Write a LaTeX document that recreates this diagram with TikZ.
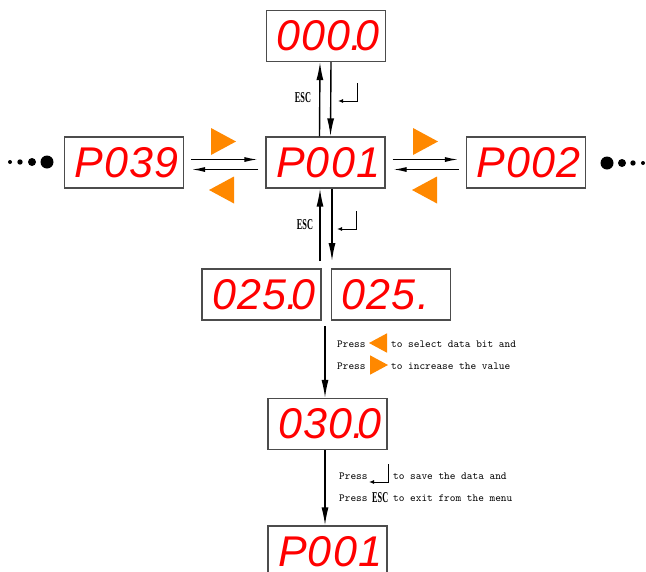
\documentclass[tikz,border=0pt]{standalone}
\usepackage{fontspec}
\setmainfont{Liberation Serif}
\newfontfamily\segfont{Liberation Sans}[LetterSpace=3]
\newfontfamily\escfont{Liberation Serif}[FakeStretch=0.55]
\usetikzlibrary{arrows.meta}

\definecolor{keyorange}{RGB}{255,136,0}
\definecolor{segred}{RGB}{255,0,0}

% decimal point of a seven segment display takes almost no room
\newcommand{\segdot}{\makebox[5pt][l]{.}}

\tikzset{
  display/.style={draw=black!70, line width=1.2pt, minimum width=119pt,
    minimum height=51pt, text width=99pt, inner sep=0pt, align=left,
    text=segred, font=\segfont\itshape\fontsize{43}{43}\selectfont},
  bigarrow/.style={line width=1.4pt, -{Latex[length=18pt,width=7pt]}},
  sidearrow/.style={line width=1.2pt, -{Latex[length=13pt,width=5pt]},
    shorten <=7pt, shorten >=8pt},
  esclabel/.style={font=\escfont\bfseries\fontsize{15}{15}\selectfont, inner sep=0pt},
  note/.style={font=\ttfamily\fontsize{10.8}{12}\selectfont, anchor=base west, inner sep=0pt},
  keyright/.pic={\fill[keyorange] (-12.5,-13.5) -- (12.5,0) -- (-12.5,13.5) -- cycle;},
  keyleft/.pic={\fill[keyorange] (12.5,-13.5) -- (-12.5,0) -- (12.5,13.5) -- cycle;},
  enterkey/.pic={\draw[line width=1pt, -{Latex[length=5pt,width=4pt]}] (0,-18) -- (0,0) -- (-19,0);}
}

\begin{document}
\begin{tikzpicture}[x=1pt,y=-1pt]
  \useasboundingbox (0,0) rectangle (646,571);
  \clip (0,0) rectangle (646,571);

  % --- displays ---
  \node[display] (top)   at (326,36)     {000\segdot0};
  \node[display] (p039)  at (124,162.5)  {P039};
  \node[display] (p001)  at (325.5,162.5){P001};
  \node[display] (p002)  at (526,162.5)  {P002};
  \node[display] (d0250) at (261.5,294.5){025\segdot0};
  \node[display] (d025)  at (391,294.5)  {025.};
  \node[display] (d0300) at (327.5,424)  {030\segdot0};
  \node[display] (p001b) at (327.5,551.5){P001};

  % --- up and down from P001 ---
  \draw[bigarrow] ([xshift=-6pt]p001.north) -- ([xshift=-6pt]top.south);
  \draw[bigarrow] ([xshift=5pt]top.south) -- ([xshift=5pt]p001.north);
  \node[esclabel] (escup) at (303,98) {ESC};
  \pic at (357,101) {enterkey};

  \coordinate (gapTop) at (326,261);
  \draw[bigarrow] ([xshift=-6pt]gapTop) -- ([xshift=-6pt]gapTop |- p001.south);
  \draw[bigarrow] ([xshift=6pt]gapTop |- p001.south) -- ([xshift=6pt]gapTop);
  \node[esclabel] (escdown) at (305,225) {ESC};
  \pic at (356,229) {enterkey};

  % --- left and right ---
  \draw[sidearrow] ([yshift=3pt]p039.east) -- ([yshift=3pt]p001.west);
  \draw[sidearrow] ([yshift=-7pt]p001.west) -- ([yshift=-7pt]p039.east);
  \draw[sidearrow] ([yshift=3pt]p001.east) -- ([yshift=3pt]p002.west);
  \draw[sidearrow] ([yshift=-7pt]p002.west) -- ([yshift=-7pt]p001.east);
  \pic at (223.5,141.5) {keyright};
  \pic at (221.5,190) {keyleft};
  \pic at (425.5,141.5) {keyright};
  \pic at (424.5,190) {keyleft};

  % more parameters on both sides
  \fill (10,162) circle (2) (20,162) circle (2.7) (32,162) circle (4) (47,162) circle (6.5);
  \fill (607,163) circle (6.5) (622,163) circle (4) (633,163) circle (2.7) (643,163) circle (2);

  % --- editing the value ---
  \coordinate (gapBot) at (325,326);
  \draw[bigarrow] (gapBot) -- (gapBot |- d0300.north);
  \node[note] (pressA) at (337,347) {Press};
  \pic[scale=0.72] at (378,343) {keyleft};
  \node[note] (selbit) at (391,347) {to select data bit and};
  \node[note] (pressB) at (337,369) {Press};
  \pic[scale=0.72] at (379,365) {keyright};
  \node[note] (incval) at (391,369) {to increase the value};

  % --- saving ---
  \draw[bigarrow] ([xshift=-2.5pt]d0300.south) -- ([xshift=-2.5pt]p001b.north);
  \node[note] (pressC) at (339,479) {Press};
  \pic at (388,482) {enterkey};
  \node[note] (savedata) at (393,479) {to save the data and};
  \node[note] (pressD) at (339,501) {Press};
  \node[esclabel, anchor=base west] (escsave) at (372,502) {ESC};
  \node[note] (exitmenu) at (393,501) {to exit from the menu};
\end{tikzpicture}
\end{document}
